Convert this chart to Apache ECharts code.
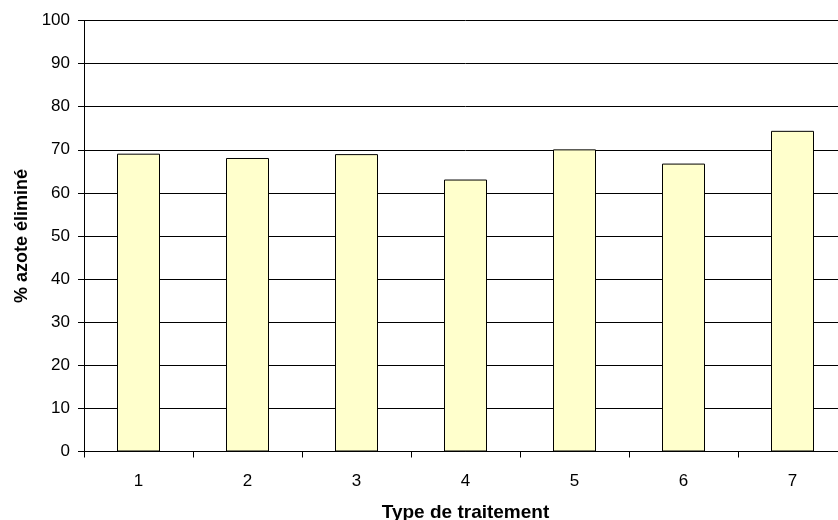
<!DOCTYPE html>
<html>
<head>
<meta charset="utf-8">
<script src="https://cdn.jsdelivr.net/npm/echarts@6/dist/echarts.min.js"></script>
<style>html,body{margin:0;padding:0;background:#fff;overflow:hidden;}#c{width:860px;height:520px;}</style>
</head>
<body>
<div id="c"></div>
<script>
const categories = ['1', '2', '3', '4', '5', '6', '7'];
const values = [69.1, 68.1, 69.0, 63.1, 70.1, 66.8, 74.4];
const yTicks = { min: 0, max: 100, interval: 10 };
const xTitle = 'Type de traitement';
const yTitle = '% azote éliminé';

const chart = echarts.init(document.getElementById('c'), null, { renderer: 'canvas' });
const font = 'Arial, "Liberation Sans", sans-serif';
chart.setOption({
  animation: false,
  backgroundColor: '#ffffff',
  grid: { left: 84, top: 20.5, width: 763, height: 431, containLabel: false, outerBoundsMode: 'none' },
  xAxis: {
    type: 'category',
    data: categories,
    boundaryGap: true,
    name: xTitle,
    nameLocation: 'middle',
    nameGap: 52,
    nameTextStyle: { fontFamily: font, fontSize: 19, fontWeight: 'bold', color: '#000' },
    axisLine: { lineStyle: { color: '#000', width: 1 } },
    axisTick: { show: true, alignWithLabel: false, length: 6, lineStyle: { color: '#000' } },
    axisLabel: { fontFamily: font, fontSize: 17, color: '#000', margin: 21 },
    splitLine: { show: false }
  },
  yAxis: {
    type: 'value',
    min: yTicks.min,
    max: yTicks.max,
    interval: yTicks.interval,
    name: yTitle,
    nameLocation: 'middle',
    nameGap: 50,
    nameTextStyle: { fontFamily: font, fontSize: 18, fontWeight: 'bold', color: '#000' },
    axisLine: { show: true, lineStyle: { color: '#000', width: 1 } },
    axisTick: { show: true, length: 6, lineStyle: { color: '#000' } },
    axisLabel: { fontFamily: font, fontSize: 17, color: '#000', margin: 14 },
    splitLine: { show: true, lineStyle: { color: '#000', width: 1 } }
  },
  series: [{
    type: 'bar',
    data: values,
    barWidth: 43,
    itemStyle: { color: '#FFFFCC', borderColor: '#000', borderWidth: 1 }
  }]
});
</script>
</body>
</html>
